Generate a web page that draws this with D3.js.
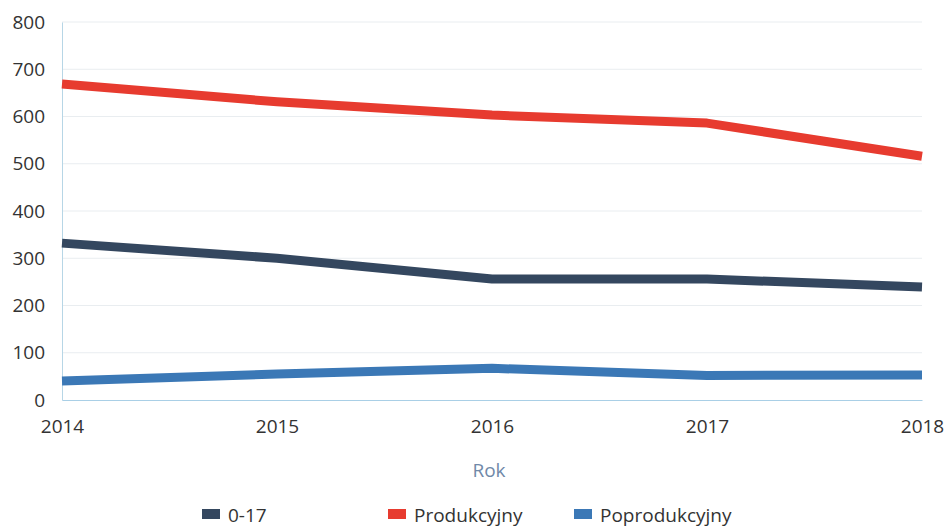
<!DOCTYPE html>
<html>
<head>
<meta charset="utf-8">
<script src="https://cdn.jsdelivr.net/npm/d3@7"></script>
<style>
  body { margin: 0; background: #fff; }
  svg { display: block; font-family: "Open Sans", sans-serif; }
  .axis text { fill: #333; font-size: 19px; }
</style>
</head>
<body>
<div id="chart"></div>
<script>
const years = [2014, 2015, 2016, 2017, 2018]
const yTicks = [0, 100, 200, 300, 400, 500, 600, 700, 800]
const seriesNames = ["0-17", "Produkcyjny", "Poprodukcyjny"]
const kids = [332, 300, 256, 256, 239]
const working = [669, 631, 603, 586, 516]
const retired = [40, 55, 67, 52, 53]
const colors = ["#34475f", "#e73b2f", "#3b78b6"]

const width = 948, height = 528
const margin = ({top: 22, right: 26, bottom: 128, left: 62})

const series = [kids, working, retired].map((values, i) => ({
  name: seriesNames[i],
  color: colors[i],
  values: values.map((v, j) => ({year: years[j], value: v}))
}))

const svg = d3.select("#chart").append("svg")
  .attr("width", width)
  .attr("height", height)

const x = d3.scaleLinear()
  .domain(d3.extent(years))
  .range([margin.left, width - margin.right])

const y = d3.scaleLinear()
  .domain([0, 800])
  .range([height - margin.bottom, margin.top])

// faint grid
svg.append("g")
  .selectAll("line")
  .data(yTicks.slice(1))
  .join("line")
  .attr("x1", margin.left).attr("x2", width - margin.right)
  .attr("y1", d => y(d)).attr("y2", d => y(d))
  .attr("stroke", "#e9edf0")
  .attr("stroke-width", 1)

svg.append("g")
  .attr("class", "axis")
  .attr("transform", `translate(${margin.left}, 0)`)
  .call(d3.axisLeft(y).tickValues(yTicks).tickSize(0).tickPadding(17))
  .attr("font-family", null).attr("font-size", null)
  .call(g => g.select(".domain").attr("stroke", "#b7d6e6"))

svg.append("g")
  .attr("class", "axis")
  .attr("transform", `translate(0, ${height - margin.bottom})`)
  .call(d3.axisBottom(x).tickValues(years).tickFormat(d3.format("d")).tickSize(0).tickPadding(20))
  .attr("font-family", null).attr("font-size", null)
  .call(g => g.select(".domain").attr("stroke", "#a9cfe6"))

const line = d3.line().x(d => x(d.year)).y(d => y(d.value))

svg.append("g")
  .selectAll("path")
  .data(series)
  .join("path")
  .attr("fill", "none")
  .attr("stroke", d => d.color)
  .attr("stroke-width", 9)
  .attr("stroke-linejoin", "round")
  .attr("d", d => line(d.values))

svg.append("text")
  .attr("x", 489)
  .attr("y", 477)
  .attr("text-anchor", "middle")
  .attr("fill", "#7088a8")
  .style("font-size", "19px")
  .text("Rok")

const legendX = [202, 388, 574]
const legend = svg.append("g")
  .selectAll("g")
  .data(series)
  .join("g")
  .attr("transform", (d, i) => `translate(${legendX[i]}, 509)`)

legend.append("rect")
  .attr("width", 18).attr("height", 10)
  .attr("fill", d => d.color)

legend.append("text")
  .attr("x", 26)
  .attr("y", 13)
  .attr("fill", "#333")
  .style("font-size", "19px")
  .text(d => d.name)
</script>
</body>
</html>
